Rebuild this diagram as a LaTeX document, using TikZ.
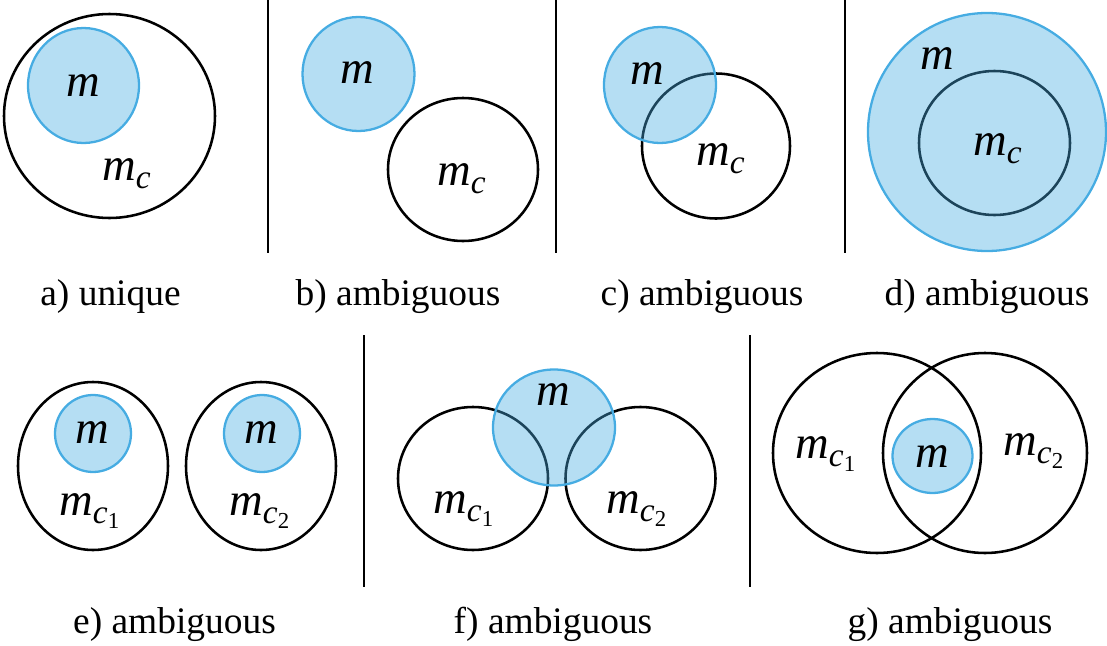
\documentclass[tikz,border=0pt]{standalone}
\usepackage{fontspec}
\setmainfont{Liberation Serif}
\definecolor{mblue}{RGB}{70,172,226}
\newcommand{\subc}{\raisebox{-5pt}{\fontsize{19}{20}\selectfont c}}
\newcommand{\subci}[1]{\raisebox{-5pt}{\fontsize{19}{20}\selectfont c\raisebox{-2.5pt}{\fontsize{13}{14}\selectfont\upshape #1}}}
\tikzset{
  setc/.style={draw=black, line width=1.45pt},
  mset/.style={draw=mblue, line width=1.3pt, fill=mblue, fill opacity=0.4, draw opacity=1},
  sepline/.style={draw=black, line width=1.7pt},
  lab/.style={font=\fontsize{21.3}{24}\selectfont, anchor=base, inner sep=0pt},
  mtext/.style={font=\fontsize{26.5}{30}\selectfont\itshape, inner sep=0pt},
}
\begin{document}
\begin{tikzpicture}[x=0.02cm, y=-0.02cm]
\useasboundingbox (0,0) rectangle (1107,646);
% separators
\coordinate (s1t) at (268,0);   \coordinate (s1b) at (268,253);
\coordinate (s2t) at (556,0);   \coordinate (s2b) at (556,253);
\coordinate (s3t) at (845,0);   \coordinate (s3b) at (845,253);
\coordinate (s4t) at (364,335); \coordinate (s4b) at (364,587);
\coordinate (s5t) at (750,335); \coordinate (s5b) at (750,587);
\draw[sepline] (s1t) -- (s1b);
\draw[sepline] (s2t) -- (s2b);
\draw[sepline] (s3t) -- (s3b);
\draw[sepline] (s4t) -- (s4b);
\draw[sepline] (s5t) -- (s5b);

% a) unique
\draw[setc] (109.5,116) ellipse [x radius=105.5, y radius=102];
\draw[mset] (83.5,85.5) ellipse [x radius=55.5, y radius=57.5];
\node[mtext] (am) at (83.5,85.5) {m};
\node[mtext, anchor=base west] (amc) at (102,180) {m\subc};
\node[lab] (la) at (110.5,305) {a) unique};

% b)
\draw[setc] (463,169.5) ellipse [x radius=75, y radius=71.5];
\draw[mset] (358.5,74) ellipse [x radius=56, y radius=57];
\node[mtext] (bm) at (357.5,72.5) {m};
\node[mtext, anchor=base west] (bmc) at (437,185) {m\subc};
\node[lab] (lb) at (398,305) {b) ambiguous};

% c)
\draw[setc] (716,146) ellipse [x radius=74, y radius=72.5];
\draw[mset] (660,85) ellipse [x radius=56, y radius=58];
\node[mtext] (cm) at (647,74) {m};
\node[mtext, anchor=base west] (cmc) at (696,165) {m\subc};
\node[lab] (lc) at (702,305) {c) ambiguous};

% d)
\draw[setc] (994.5,143) ellipse [x radius=75.5, y radius=72];
\draw[mset] (987,132) ellipse [x radius=119, y radius=119];
\node[mtext] (dm) at (937.5,59) {m};
\node[mtext, anchor=base west] (dmc) at (973,155) {m\subc};
\node[lab] (ld) at (987,305) {d) ambiguous};

% e)
\draw[setc] (93,466) ellipse [x radius=75, y radius=84];
\draw[setc] (261,466) ellipse [x radius=75, y radius=84];
\draw[mset] (93,433.5) ellipse [x radius=38, y radius=38.5];
\draw[mset] (262,433.5) ellipse [x radius=38, y radius=38.5];
\node[mtext] (em1) at (92.5,432.5) {m};
\node[mtext] (em2) at (261.7,432.5) {m};
\node[mtext, anchor=base west] (emc1) at (59,515) {m\subci{1}};
\node[mtext, anchor=base west] (emc2) at (229,515) {m\subci{2}};
\node[lab] (le) at (174.5,633) {e) ambiguous};

% f)
\draw[setc] (473,478.5) ellipse [x radius=75, y radius=71.5];
\draw[setc] (640.5,478.5) ellipse [x radius=75, y radius=71.5];
\draw[mset] (554,427.5) ellipse [x radius=61, y radius=58];
\node[mtext] (fm) at (553.5,395) {m};
\node[mtext, anchor=base west] (fmc1) at (433,513) {m\subci{1}};
\node[mtext, anchor=base west] (fmc2) at (606,513) {m\subci{2}};
\node[lab] (lf) at (553,633) {f) ambiguous};

% g)
\draw[setc] (877,453) ellipse [x radius=104, y radius=100];
\draw[setc] (985,453) ellipse [x radius=102, y radius=100];
\draw[mset] (932.5,456) ellipse [x radius=40, y radius=37];
\node[mtext] (gm) at (932,457) {m};
\node[mtext, anchor=base west] (gmc1) at (795,458) {m\subci{1}};
\node[mtext, anchor=base west] (gmc2) at (1003,455) {m\subci{2}};
\node[lab] (lg) at (950,633) {g) ambiguous};
\end{tikzpicture}
\end{document}
